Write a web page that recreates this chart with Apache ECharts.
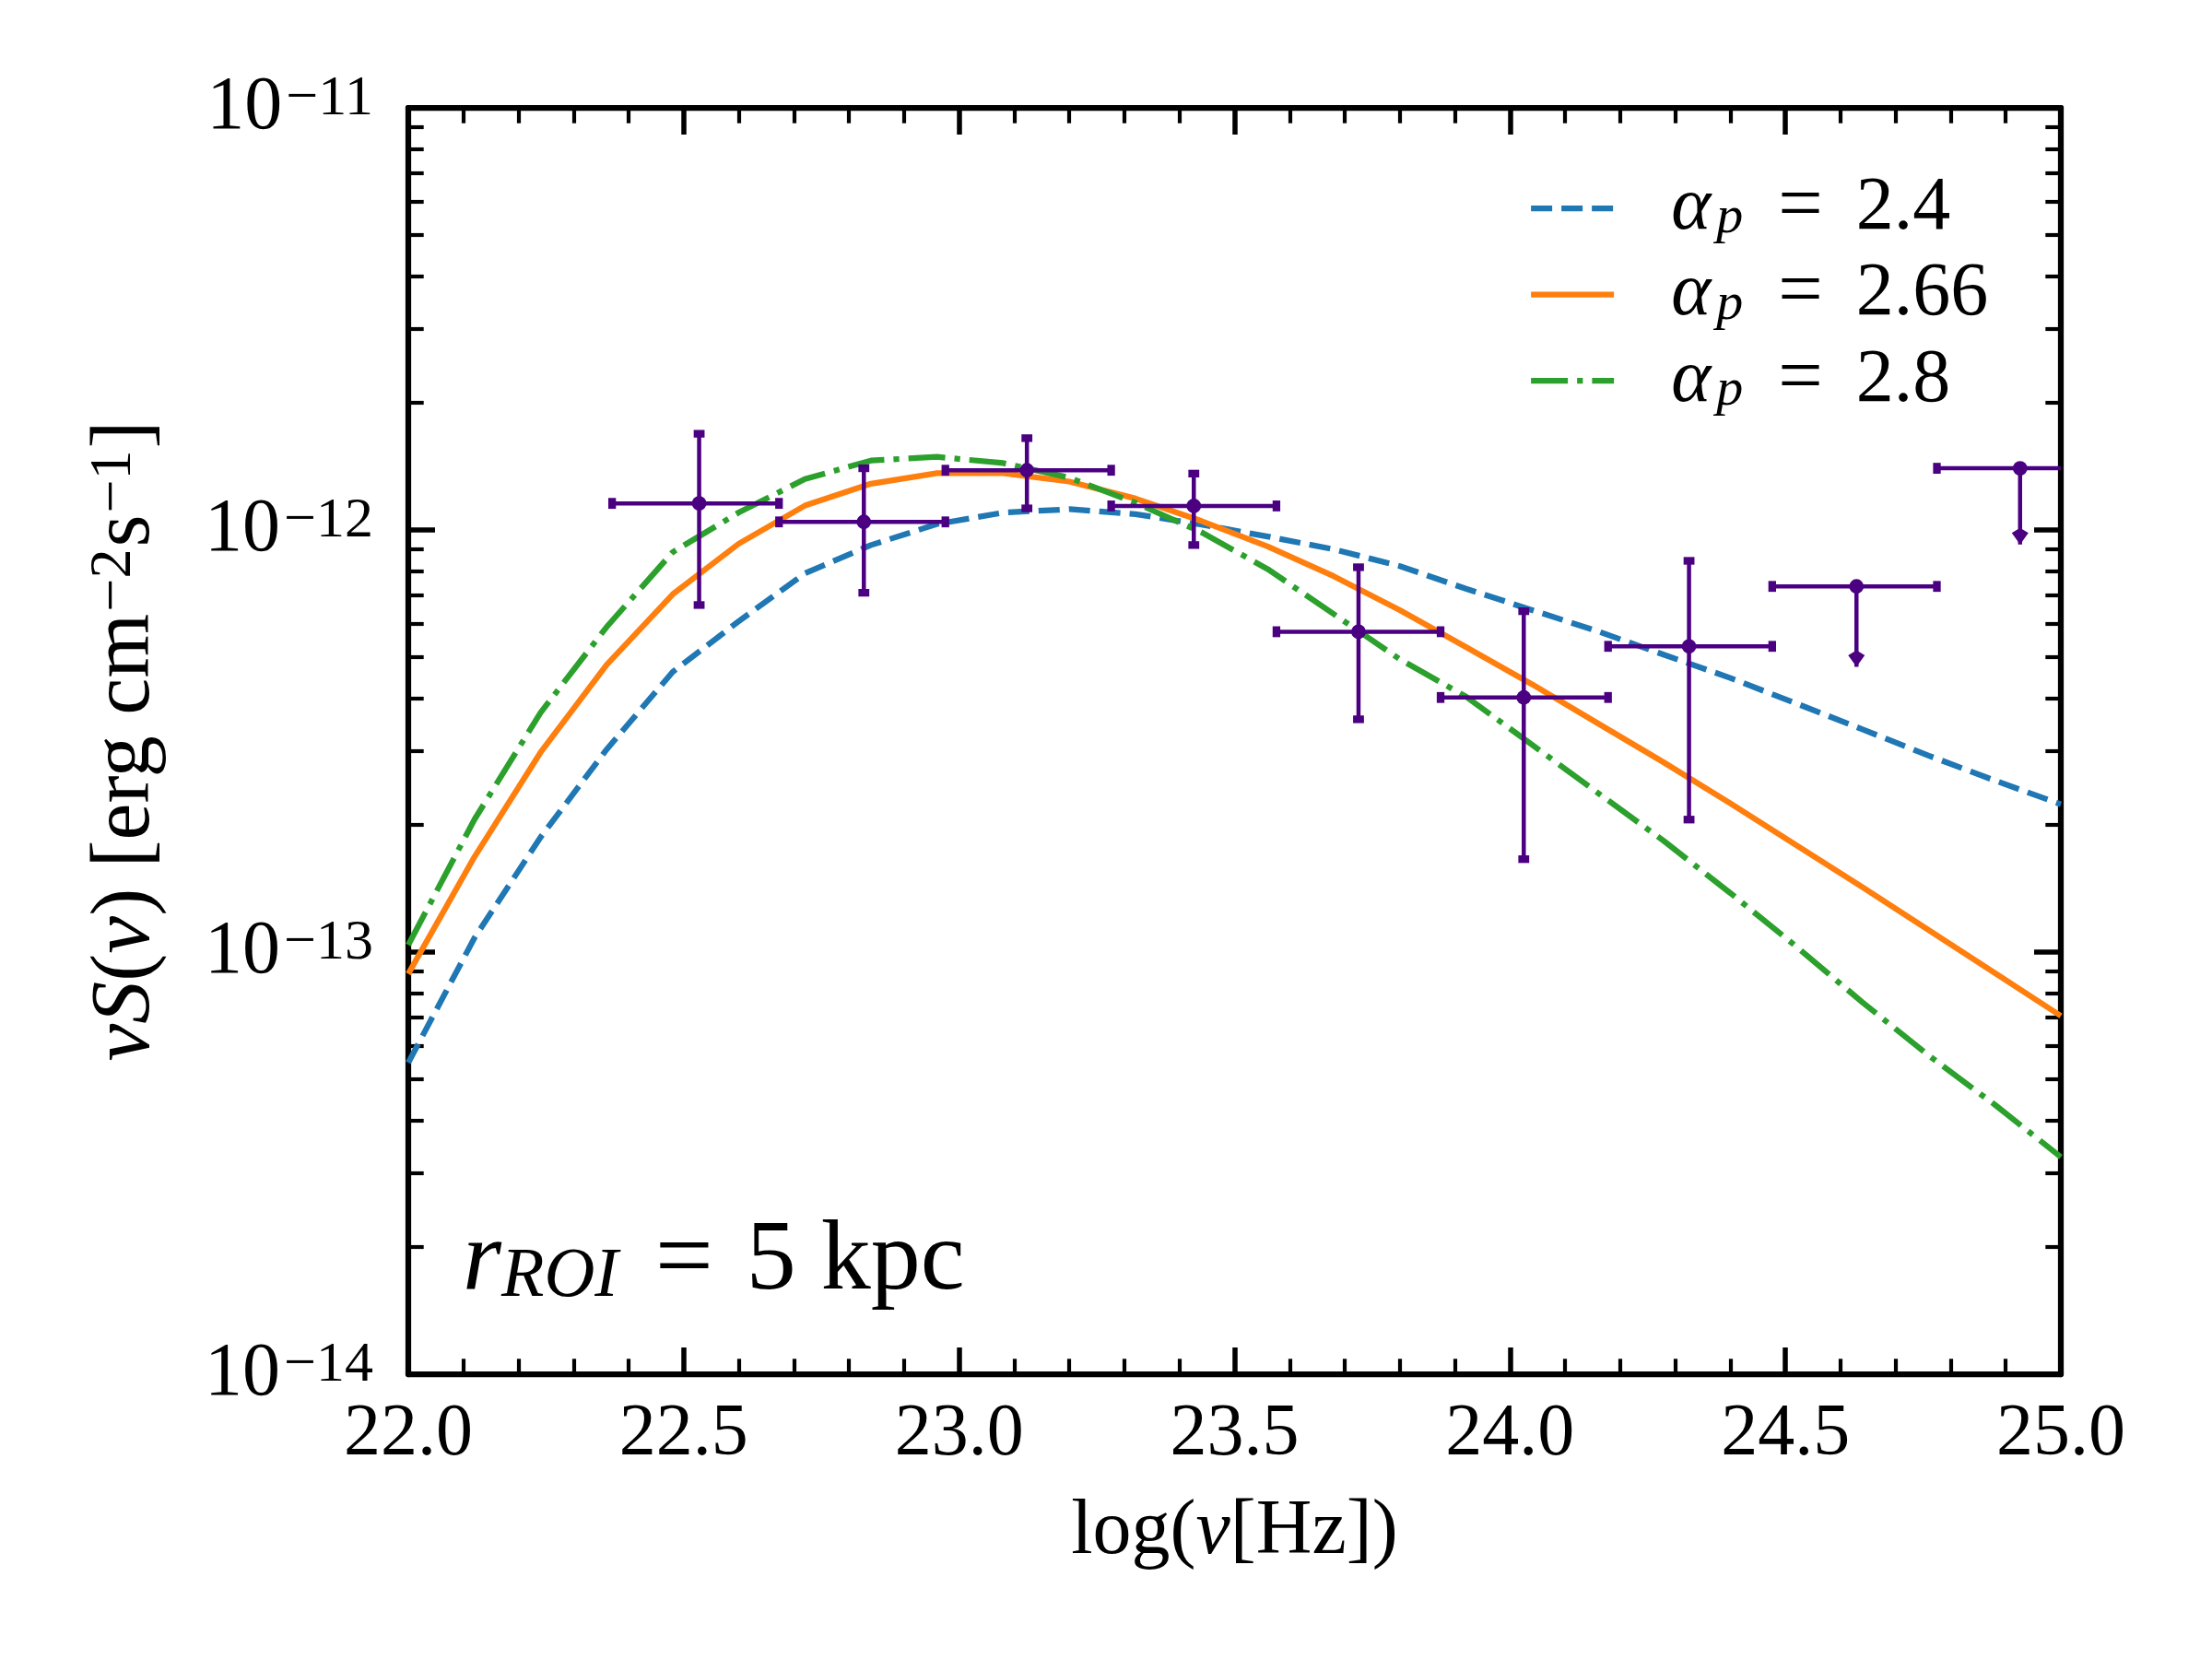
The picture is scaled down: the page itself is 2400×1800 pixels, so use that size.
<!DOCTYPE html>
<html>
<head>
<meta charset="utf-8">
<title>nuS(nu) spectrum</title>
<script src="https://cdn.jsdelivr.net/npm/echarts@6.0.0/dist/echarts.min.js"></script>
<style>
  html, body { margin: 0; padding: 0; background: #fff; }
  #chart { width: 2400px; height: 1800px; }
</style>
</head>
<body>
<div id="chart"></div>
<script>
// model curves, sampled in log10(nu / Hz)
const modelLogNu = [22.00, 22.12, 22.24, 22.36, 22.48, 22.60, 22.72, 22.84, 22.96, 23.08, 23.20, 23.32, 23.44,
  23.56, 23.68, 23.80, 23.92, 24.04, 24.16, 24.28, 24.40, 24.52, 24.64, 24.76, 24.88, 25.00]

const fluxAlpha240 = [5.47e-14, 1.08e-13, 1.87e-13, 3.02e-13, 4.61e-13, 6.08e-13, 7.89e-13, 9.21e-13, 1.033e-12,
  1.099e-12, 1.12e-12, 1.09e-12, 1.03e-12, 9.65e-13, 9.0e-13, 8.21e-13, 7.26e-13, 6.46e-13, 5.75e-13, 5.06e-13,
  4.46e-13, 3.88e-13, 3.37e-13, 2.92e-13, 2.55e-13, 2.24e-13]

const fluxAlpha266 = [8.88e-14, 1.68e-13, 2.97e-13, 4.79e-13, 7.04e-13, 9.28e-13, 1.142e-12, 1.287e-12, 1.363e-12,
  1.363e-12, 1.302e-12, 1.187e-12, 1.05e-12, 9.14e-13, 7.77e-13, 6.46e-13, 5.28e-13, 4.31e-13, 3.48e-13, 2.81e-13,
  2.25e-13, 1.79e-13, 1.425e-13, 1.128e-13, 8.93e-14, 7.06e-14]

const fluxAlpha280 = [1.04e-13, 2.06e-13, 3.69e-13, 5.89e-13, 8.86e-13, 1.10e-12, 1.32e-12, 1.46e-12, 1.49e-12,
  1.44e-12, 1.33e-12, 1.16e-12, 9.87e-13, 8.08e-13, 6.32e-13, 4.94e-13, 4.03e-13, 3.10e-13, 2.38e-13, 1.83e-13,
  1.38e-13, 1.03e-13, 7.6e-14, 5.69e-14, 4.35e-14, 3.27e-14]

const alphaLabels = ['2.4', '2.66', '2.8']

// binned data points
const obsLogNu = [22.528, 22.827, 23.123, 23.426, 23.725, 24.025, 24.325, 24.629, 24.926]
const obsLogNuLow = [22.370, 22.673, 22.975, 23.276, 23.576, 23.874, 24.178, 24.476, 24.775]
const obsLogNuHigh = [22.673, 22.975, 23.276, 23.576, 23.874, 24.178, 24.476, 24.775, 25.077]
const obsFlux = [1.156e-12, 1.045e-12, 1.385e-12, 1.14e-12, 5.74e-13, 4.01e-13, 5.30e-13, 7.35e-13, 1.40e-12]
const obsFluxHigh = [1.69e-12, 1.40e-12, 1.65e-12, 1.36e-12, 8.16e-13, 6.42e-13, 8.45e-13, null, null]
const obsFluxLow = [6.64e-13, 7.10e-13, 1.125e-12, 9.21e-13, 3.56e-13, 1.66e-13, 2.06e-13, 4.74e-13, 9.24e-13]
const obsUpperLimit = [false, false, false, false, false, false, false, true, true]

// axis ticks (decade exponents of the y axis)
const yDecades = [-14, -13, -12, -11]

const FONT = 'Liberation Serif'
const INK = '#000000'
const PURPLE = '#4b0082'

const toLog = v => Math.log10(v)

const yMinorTicks = []
for (let i = 0; i < yDecades.length - 1; i++) {
  for (let k = 2; k <= 9; k++) yMinorTicks.push(yDecades[i] + Math.log10(k))
}

const chart = echarts.init(document.getElementById('chart'))

const tickCommon = {
  axisLine: { onZero: false, lineStyle: { color: INK, width: 6.25 } },
  axisTick: { show: true, inside: true, length: 29, lineStyle: { color: INK, width: 5.5 } },
  minorTick: { show: true, splitNumber: 5, length: 16.7, lineStyle: { color: INK, width: 4.2 } },
  splitLine: { show: false },
  minorSplitLine: { show: false }
}

const xBase = {
  type: 'value',
  min: 22,
  max: 25,
  interval: 0.5,
  ...tickCommon
}

const yBase = {
  type: 'value',
  min: yDecades[0],
  max: yDecades[yDecades.length - 1],
  interval: 1,
  splitLine: { show: false },
  axisLine: { onZero: false, lineStyle: { color: INK, width: 6.25 } }
}

const yMajor = (position, showLabel) => ({
  ...yBase,
  position,
  axisTick: { show: true, inside: true, length: 29, lineStyle: { color: INK, width: 5.5 } },
  axisLabel: {
    show: showLabel,
    margin: 38,
    formatter: v => '{b|10}{s|\u2212' + Math.abs(v) + '}',
    rich: {
      b: { fontFamily: FONT, fontSize: 82, lineHeight: 80, color: INK },
      s: { fontFamily: FONT, fontSize: 62, lineHeight: 36, verticalAlign: 'top', color: INK, padding: [0, 0, 0, 4] }
    }
  }
})

const yMinor = position => ({
  ...yBase,
  position,
  axisLine: { show: false },
  axisLabel: { show: false },
  axisTick: {
    show: true,
    inside: true,
    length: 16.7,
    customValues: yMinorTicks,
    lineStyle: { color: INK, width: 4.2 }
  }
})

const lineSeries = (name, values, color, dash) => ({
  name,
  type: 'line',
  xAxisIndex: 0,
  yAxisIndex: 0,
  data: modelLogNu.map((x, i) => [x, toLog(values[i])]),
  symbol: 'none',
  z: 2,
  itemStyle: { color },
  lineStyle: { color, width: 6.25, type: dash, cap: 'butt' }
})

const pointData = obsLogNu.map((x, i) => [
  x,
  toLog(obsFlux[i]),
  obsLogNuLow[i],
  obsLogNuHigh[i],
  toLog(obsFluxLow[i]),
  obsFluxHigh[i] == null ? toLog(obsFlux[i]) : toLog(obsFluxHigh[i]),
  obsUpperLimit[i] ? 1 : 0
])

const renderErrorBar = (params, api) => {
  const c = api.coord([api.value(0), api.value(1)])
  const xl = api.coord([api.value(2), api.value(1)])[0]
  const xh = api.coord([api.value(3), api.value(1)])[0]
  const yl = api.coord([api.value(0), api.value(4)])[1]
  const yh = api.coord([api.value(0), api.value(5)])[1]
  const isLimit = api.value(6) === 1
  const bar = { stroke: PURPLE, lineWidth: 4.5 }
  const cap = { stroke: PURPLE, lineWidth: 8.3 }
  const capHalf = 5.9
  const children = [
    { type: 'line', shape: { x1: xl, y1: c[1], x2: xh, y2: c[1] }, style: bar },
    { type: 'line', shape: { x1: c[0], y1: yh, x2: c[0], y2: yl }, style: bar },
    { type: 'line', shape: { x1: xl, y1: c[1] - capHalf, x2: xl, y2: c[1] + capHalf }, style: cap },
    { type: 'line', shape: { x1: xh, y1: c[1] - capHalf, x2: xh, y2: c[1] + capHalf }, style: cap }
  ]
  if (isLimit) {
    children.push({
      type: 'polygon',
      shape: { points: [[c[0], yl], [c[0] - 9, yl - 12.5], [c[0], yl - 18], [c[0] + 9, yl - 12.5]] },
      style: { fill: PURPLE }
    })
  } else {
    children.push(
      { type: 'line', shape: { x1: c[0] - capHalf, y1: yl, x2: c[0] + capHalf, y2: yl }, style: cap },
      { type: 'line', shape: { x1: c[0] - capHalf, y1: yh, x2: c[0] + capHalf, y2: yh }, style: cap }
    )
  }
  children.push({ type: 'circle', shape: { cx: c[0], cy: c[1], r: 7.9 }, style: { fill: PURPLE } })
  return { type: 'group', children }
}

const option = {
  backgroundColor: '#ffffff',
  animation: false,
  textStyle: { fontFamily: FONT, color: INK },
  grid: { left: 443, right: 164, top: 117, bottom: 309, containLabel: false },
  xAxis: [
    {
      ...xBase,
      position: 'bottom',
      axisLabel: {
        margin: 26,
        fontFamily: FONT,
        fontSize: 80,
        lineHeight: 80,
        color: INK,
        formatter: v => v.toFixed(1)
      },
      name: 'log({i|\u03bd}[Hz])',
      nameLocation: 'middle',
      nameGap: 130,
      nameTextStyle: {
        fontFamily: FONT,
        fontSize: 84,
        lineHeight: 84,
        color: INK,
        rich: {
          i: { fontFamily: FONT, fontSize: 84, lineHeight: 84, fontStyle: 'italic', color: INK }
        }
      }
    },
    { ...xBase, position: 'top', axisLabel: { show: false } }
  ],
  yAxis: [
    {
      ...yMajor('left', true),
      name: '{i|\u03bdS}{n|(}{i|\u03bd}{n|) [erg cm}{s|\u22122}{n|s}{s|\u22121}{n|]}',
      nameLocation: 'middle',
      nameRotate: 90,
      nameGap: 261,
      nameTextStyle: {
        fontFamily: FONT,
        fontSize: 90,
        color: INK,
        rich: {
          i: { fontFamily: FONT, fontSize: 92, lineHeight: 90, fontStyle: 'italic', color: INK },
          n: { fontFamily: FONT, fontSize: 90, lineHeight: 90, color: INK },
          s: { fontFamily: FONT, fontSize: 64, lineHeight: 40, verticalAlign: 'top', color: INK, padding: [0, 2, 0, 2] }
        }
      }
    },
    yMinor('left'),
    yMajor('right', false),
    yMinor('right')
  ],
  legend: {
    orient: 'vertical',
    left: 1658,
    top: 183,
    padding: 0,
    itemWidth: 90,
    itemHeight: 2,
    itemGap: 7.5,
    data: alphaLabels,
    itemStyle: { opacity: 0 },
    lineStyle: { width: 6.25 },
    formatter: name => '{a|\u03b1}{p|p}{e|=}{v|' + name + '}',
    textStyle: {
      padding: [0, 0, 0, 57],
      rich: {
        a: { fontFamily: FONT, fontSize: 82, lineHeight: 80, fontStyle: 'italic', color: INK, padding: [0, 6, 0, 0] },
        p: { fontFamily: FONT, fontSize: 58, lineHeight: 48, fontStyle: 'italic', verticalAlign: 'bottom', color: INK },
        e: { fontFamily: FONT, fontSize: 86, lineHeight: 80, color: INK, padding: [0, 36, 0, 38] },
        v: { fontFamily: FONT, fontSize: 82, lineHeight: 80, color: INK }
      }
    }
  },
  graphic: [
    {
      type: 'text',
      x: 502,
      y: 1370,
      z: 10,
      style: {
        text: '{r|r}{sub|ROI}{e|=}{n|5 kpc}',
        align: 'left',
        verticalAlign: 'middle',
        rich: {
          r: { fontFamily: FONT, fontSize: 108, lineHeight: 108, fontStyle: 'italic', fill: INK },
          sub: { fontFamily: FONT, fontSize: 76, lineHeight: 55, fontStyle: 'italic', verticalAlign: 'bottom', fill: INK },
          e: { fontFamily: FONT, fontSize: 112, lineHeight: 108, fill: INK, padding: [0, 36, 0, 40] },
          n: { fontFamily: FONT, fontSize: 108, lineHeight: 108, fill: INK }
        }
      }
    }
  ],
  series: [
    lineSeries(alphaLabels[0], fluxAlpha240, '#1f77b4', [23, 10]),
    lineSeries(alphaLabels[1], fluxAlpha266, '#ff7f0e', 'solid'),
    lineSeries(alphaLabels[2], fluxAlpha280, '#2ca02c', [40, 10, 6.25, 10]),
    {
      type: 'custom',
      name: 'data',
      xAxisIndex: 0,
      yAxisIndex: 0,
      z: 5,
      clip: true,
      encode: { x: [0, 2, 3], y: [1, 4, 5] },
      data: pointData,
      renderItem: renderErrorBar
    }
  ]
}

chart.setOption(option)
window.addEventListener('resize', () => chart.resize())
</script>
</body>
</html>
